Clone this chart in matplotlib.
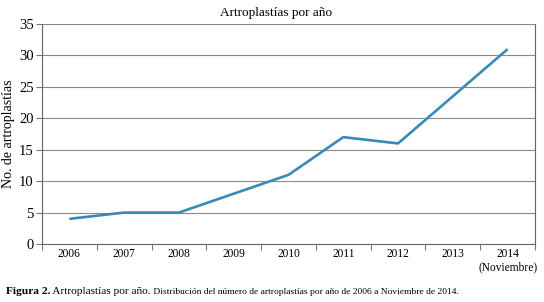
import matplotlib
matplotlib.use("Agg")
import matplotlib.pyplot as plt
import numpy as np

years = ["2006", "2007", "2008", "2009", "2010", "2011", "2012", "2013", "2014\n(Noviembre)"]
counts = [4, 5, 5, 8, 11, 17, 16, 23.5, 31]
yticks = [0, 5, 10, 15, 20, 25, 30, 35]

title = "Artroplastías por año"
ylabel = "No. de artroplastías"
cap_bold = "Figura 2."
cap_mid = " Artroplastías por año."
cap_small = " Distribución del número de artroplastías por año de 2006 a Noviembre de 2014."

plt.rcParams['font.family'] = ['Liberation Serif', 'DejaVu Serif']

W, H = 544, 302
fig = plt.figure(figsize=(W / 100, H / 100), dpi=100)
ax = fig.add_axes([42 / W, 1 - 244 / H, (535 - 42) / W, (244 - 24) / H])

x = np.arange(len(years))
ax.plot(x, counts, color="#3a89bb", lw=1.9, solid_capstyle="butt", zorder=3)

ax.set_xlim(-0.5, len(years) - 0.5)
ax.set_ylim(0, 35)
ax.set_yticks(yticks)
ax.set_yticklabels([str(v) for v in yticks], fontsize=10.5)
ax.set_xticks(x)
ax.set_xticklabels(years, fontsize=8.3, linespacing=1.1)
ax.tick_params(axis="x", which="major", length=0, pad=3)
ax.set_xticks(np.arange(-0.5, len(years)), minor=True)
ax.tick_params(axis="x", which="minor", length=4, width=0.8, color="#777777", direction="out")
ax.tick_params(axis="y", length=4, width=0.8, color="#777777", direction="out", pad=2)

ax.grid(axis="y", color="#8a8a8a", lw=0.8)
ax.set_axisbelow(True)
for s in ["left", "bottom", "right"]:
    ax.spines[s].set_color("#666666")
    ax.spines[s].set_linewidth(0.8)
ax.spines["top"].set_visible(False)

fig.text(276 / W, 1 - 16 / H, title, fontsize=9.5, ha="center", va="baseline")
ax.set_ylabel(ylabel, fontsize=10, labelpad=3)

# caption with mixed styles
fig.canvas.draw()
renderer = fig.canvas.get_renderer()
xpos = 6 / W
ypos = 1 - 294 / H
for txt, kw in [(cap_bold, dict(fontsize=8.2, fontweight="bold")),
                (cap_mid, dict(fontsize=8.2)),
                (cap_small, dict(fontsize=6.8))]:
    t = fig.text(xpos, ypos, txt, ha="left", va="baseline", **kw)
    bb = t.get_window_extent(renderer=renderer)
    xpos = bb.x1 / W

fig.savefig("out.png", dpi=100)
